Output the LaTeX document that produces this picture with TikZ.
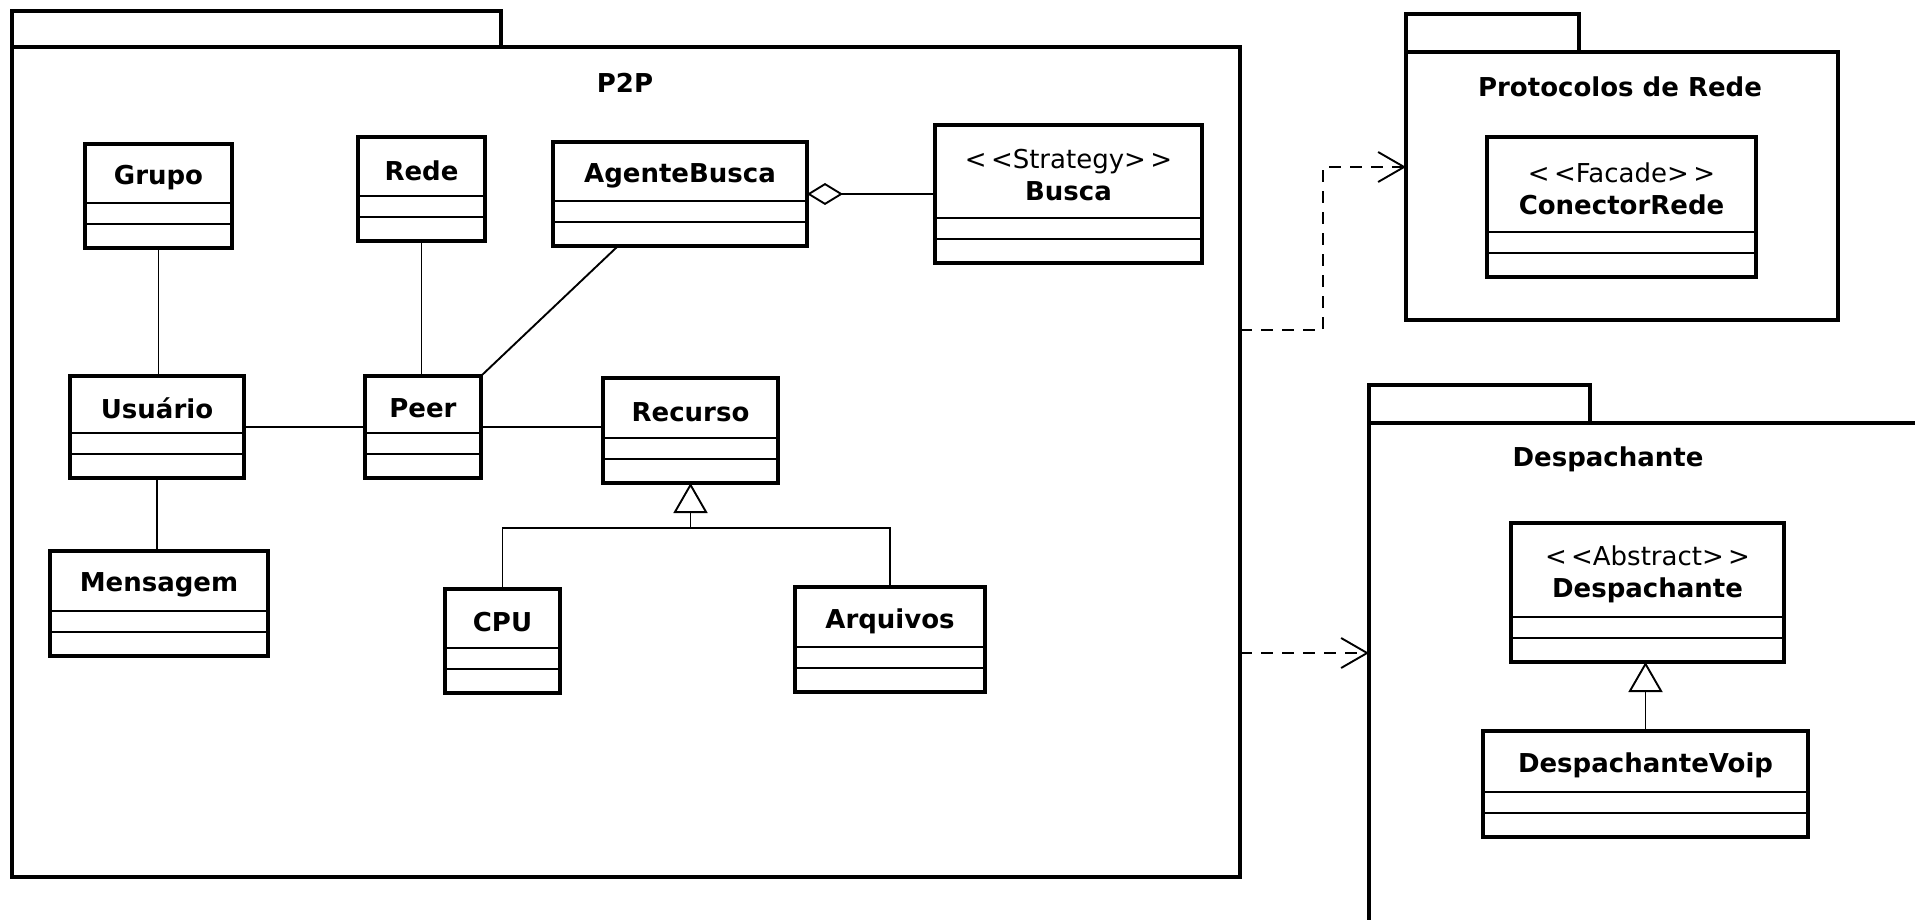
\documentclass[tikz,border=0pt]{standalone}
\usepackage{fontspec}
\setmainfont{DejaVu Sans}
\usetikzlibrary{arrows.meta,calc}

\newcommand{\stereo}[1]{{\mdseries <\,<#1>\,>}}

\begin{document}
\begin{tikzpicture}[x=1pt,y=-1pt]
	\tikzstyle{every node}=[font=\fontsize{26}{32}\selectfont]
	\tikzstyle{pkgbox}=[draw, line width=3.5pt, inner sep=0pt, outer sep=0pt, anchor=north west]
	\tikzstyle{classbox}=[draw, line width=3.5pt, inner sep=0pt, outer sep=0pt, fill=white]
	\tikzstyle{compart}=[line width=2pt]
	\tikzstyle{classname}=[font=\fontsize{26}{32}\selectfont\bfseries, align=center]
	\tikzstyle{assoc}=[line width=1.9pt]
	\tikzstyle{dep}=[line width=1.9pt, dash pattern=on 12pt off 9pt, -{Straight Barb[length=26pt,width=30pt]}]

	\useasboundingbox (0,0) rectangle (1915,920);
	\clip (0,0) rectangle (1915,920);

	\node[pkgbox, minimum width=489, minimum height=36] (p2ptab) at (12,11) {};
	\node[pkgbox, minimum width=1228, minimum height=830] (p2p) at (12,47) {};
	\node[classname] (p2plabel) at (625,83) {P2P};

	\node[pkgbox, minimum width=173, minimum height=38] (prototab) at (1406,14) {};
	\node[pkgbox, minimum width=432, minimum height=268] (proto) at (1406,52) {};
	\node[classname] (protolabel) at (1620,87) {Protocolos de Rede};

	\node[pkgbox, minimum width=221, minimum height=38] (dpkgtab) at (1369,385) {};
	\node[pkgbox, minimum width=600, minimum height=560] (dpkg) at (1369,423) {};
	\node[classname] (dpkglabel) at (1608,459) {Despachante};

	\foreach \nm/\xa/\ya/\xb/\yb/\txt in {
		grupo/85/144/232/248/Grupo,
		rede/358/137/485/241/Rede,
		agente/553/142/807/246/AgenteBusca,
		busca/935/125/1202/263/{\stereo{Strategy}\\Busca},
		usuario/70/376/244/478/Usuário,
		peer/365/376/481/478/Peer,
		recurso/603/378/778/483/Recurso,
		mensagem/50/551/268/656/Mensagem,
		cpu/445/589/560/693/CPU,
		arquivos/795/587/985/692/Arquivos,
		conector/1487/137/1756/277/{\stereo{Facade}\\ConectorRede},
		despachante/1511/523/1784/662/{\stereo{Abstract}\\Despachante},
		voip/1483/731/1808/837/DespachanteVoip}
	{
		\node[classbox, minimum width=\xb-\xa, minimum height=\yb-\ya] (\nm) at ({(\xa+\xb)/2},{(\ya+\yb)/2}) {};
		\draw[compart] ([yshift=45pt]\nm.south west) -- ([yshift=45pt]\nm.south east);
		\draw[compart] ([yshift=24pt]\nm.south west) -- ([yshift=24pt]\nm.south east);
		\node[classname] at ({(\xa+\xb)/2},{(\ya+\yb-37)/2}) {\txt};
	}

	\draw[assoc] (grupo.south) -- (grupo.south |- usuario.north);
	\draw[assoc] (rede.south) -- (rede.south |- peer.north);
	\draw[assoc] (agente.220) -- (peer.north east);
	\draw[assoc, {Diamond[open,length=36pt,width=22pt]}-] (agente.east) -- (agente.east -| busca.west);
	\draw[assoc] (usuario.east) -- (peer.west);
	\draw[assoc] (peer.east) -- (peer.east -| recurso.west);
	\draw[assoc] (usuario.south) -- (usuario.south |- mensagem.north);
	\coordinate (hub) at ($(recurso.south)+(0,45)$);
	\draw[assoc] (cpu.north) |- (hub) -| (arquivos.north);
	\draw[assoc, -{Triangle[open,length=30pt,width=34pt]}] (hub) -- (recurso.south);
	\draw[assoc, -{Triangle[open,length=30pt,width=34pt]}] (voip.north) -- (voip.north |- despachante.south);

	\draw[dep] ([yshift=132pt]p2p.east) -- ++(83,0) |- ([yshift=19pt]proto.west);
	\draw[dep] ([yshift=-191pt]p2p.east) -- ([yshift=-191pt]p2p.east -| dpkg.west);
\end{tikzpicture}
\end{document}
